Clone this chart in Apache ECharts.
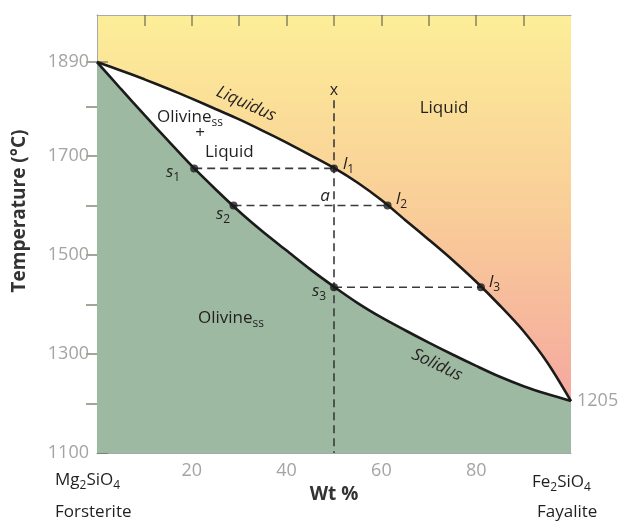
<!DOCTYPE html>
<html>
<head>
<meta charset="utf-8">
<script src="https://cdn.jsdelivr.net/npm/echarts@6/dist/echarts.min.js"></script>
<style>
html,body{margin:0;padding:0;background:#fff;}
#chart{width:618px;height:522px;}
</style>
</head>
<body>
<div id="chart"></div>
<script>
// ---- data ----
const wtPct = [0, 5, 10, 15, 20, 25, 30, 35, 40, 45, 50, 55, 60, 65, 70, 75, 80, 85, 90, 95, 100];
const liquidusT = [1890, 1873, 1855, 1836, 1816, 1795, 1774, 1751, 1727, 1702, 1676, 1646, 1611, 1571, 1531, 1490, 1446, 1398, 1346, 1283, 1205];
const solidusT = [1890, 1836, 1783, 1731, 1680, 1633, 1588, 1547, 1509, 1471, 1436, 1403, 1374, 1348, 1323, 1299, 1276, 1254, 1235, 1219, 1205];
const tieT = [1675, 1600, 1435];
const tieSolidX = [20.5, 28.8, 50];
const tieLiqX = [50, 61.3, 81];
const bulkX = 50;
const bulkT = [1813, 1100];
const xTicks = [10, 20, 30, 40, 50, 60, 70, 80, 90];
const xLabels = [20, 40, 60, 80];
const yTicksLeft = [1100, 1200, 1300, 1400, 1500, 1600, 1700, 1800, 1890];
const yLabelsLeft = [1100, 1300, 1500, 1700, 1890];
const yTicksRight = [1200, 1300, 1400, 1500, 1600, 1700, 1800, 1890];
const yLabelsRight = [1205];

const zip = (xs, ys) => xs.map((x, i) => [x, ys[i]]);
const FONT = '"Open Sans", "Noto Sans", sans-serif';
const tickStyle = { color: 'rgba(95,95,75,0.75)', width: 1.5 };
const frame = { show: true, lineStyle: { color: '#a9a9a9', width: 1 } };
const gray = '#a4a4a4';
const ink = '#231f20';
const plain = v => String(v);
const SMOOTH = 0.3;

const chart = echarts.init(document.getElementById('chart'), null, { renderer: 'canvas' });

const series = [
  { type: 'line', data: zip(wtPct, liquidusT), smooth: SMOOTH, symbol: 'none',
    lineStyle: { width: 0 }, areaStyle: { color: '#ffffff', opacity: 1, origin: 'start' }, z: 2, silent: true },
  { type: 'line', data: zip(wtPct, solidusT), smooth: SMOOTH, symbol: 'none',
    lineStyle: { width: 0 }, areaStyle: { color: '#9db9a1', opacity: 1, origin: 'start' }, z: 3, silent: true }
];
const dash = { color: '#3a3a3a', width: 1.6, type: [8, 5] };
tieT.forEach((t, i) => {
  series.push({ type: 'line', data: [[tieSolidX[i], t], [tieLiqX[i], t]], symbol: 'none', lineStyle: dash, z: 4 });
});
series.push({ type: 'line', data: bulkT.map(t => [bulkX, t]), symbol: 'none', lineStyle: dash, z: 4 });
series.push({ type: 'line', data: zip(wtPct, liquidusT), smooth: SMOOTH, symbol: 'none',
  lineStyle: { color: '#1b1b1b', width: 2.6 }, z: 5 });
series.push({ type: 'line', data: zip(wtPct, solidusT), smooth: SMOOTH, symbol: 'none',
  lineStyle: { color: '#1b1b1b', width: 2.6 }, z: 5 });
series.push({ type: 'scatter', data: zip(tieSolidX, tieT).concat(zip(tieLiqX, tieT)), symbolSize: 8,
  itemStyle: { color: '#1b1b1b' }, z: 6 });

function txt(x, y, text, opt) {
  opt = opt || {};
  return {
    type: 'text', x: x, y: y, rotation: opt.rotation || 0, z: 100,
    style: Object.assign({
      text: text, fill: opt.fill || ink,
      font: (opt.style || 'normal') + ' ' + (opt.weight || 'normal') + ' ' + (opt.size || 17) + 'px ' + FONT,
      textAlign: opt.align || 'left', textVerticalAlign: 'middle'
    }, opt.rich ? { rich: opt.rich } : {})
  };
}
const subRich = (size, italic) => ({
  a: { fontSize: size, fontFamily: FONT, fontStyle: italic ? 'italic' : 'normal', fill: ink, lineHeight: 24, verticalAlign: 'middle' },
  s: { fontSize: Math.round(size * 0.7), fontFamily: FONT, fill: ink, lineHeight: 12, verticalAlign: 'bottom' }
});

const option = {
  backgroundColor: '#ffffff',
  animation: false,
  grid: {
    left: 97, right: 47, top: 15, bottom: 69, show: true, borderWidth: 0,
    containLabel: false, outerBoundsMode: 'none',
    backgroundColor: {
      type: 'linear', x: 0, y: 0, x2: 0, y2: 1,
      colorStops: [
        { offset: 0, color: '#fcee98' },
        { offset: 0.45, color: '#f9cd98' },
        { offset: 0.85, color: '#f5ab9f' },
        { offset: 1, color: '#f3a2a0' }
      ]
    }
  },
  xAxis: [
    { type: 'value', min: 0, max: 100, position: 'bottom', axisLine: frame,
      axisTick: { show: true, inside: true, length: 11, customValues: xTicks, lineStyle: tickStyle },
      axisLabel: { customValues: xLabels, color: gray, fontSize: 18, fontFamily: FONT, margin: 9, formatter: plain },
      splitLine: { show: false },
      name: 'Wt %', nameLocation: 'middle', nameGap: 15,
      nameTextStyle: { fontWeight: 'bold', fontSize: 19, color: '#333', fontFamily: FONT } },
    { type: 'value', min: 0, max: 100, position: 'top', axisLine: frame,
      axisTick: { show: true, inside: true, length: 11, customValues: xTicks, lineStyle: tickStyle },
      axisLabel: { show: false }, splitLine: { show: false } }
  ],
  yAxis: [
    { type: 'value', min: 1100, max: 1985, position: 'left', axisLine: frame,
      axisTick: { show: true, inside: true, length: 11, customValues: yTicksLeft, lineStyle: tickStyle },
      axisLabel: { customValues: yLabelsLeft, color: gray, fontSize: 18, fontFamily: FONT, margin: 8, formatter: plain },
      splitLine: { show: false } },
    { type: 'value', min: 1100, max: 1985, position: 'right', axisLine: frame,
      axisTick: { show: true, inside: true, length: 11, customValues: yTicksRight, lineStyle: tickStyle },
      axisLabel: { customValues: yLabelsRight, color: gray, fontSize: 18, fontFamily: FONT, margin: 6, formatter: plain },
      splitLine: { show: false } }
  ],
  series: series,
  graphic: [
    txt(20, 211, 'Temperature (°C)', { weight: 'bold', size: 19, align: 'center', rotation: Math.PI / 2, fill: '#333' }),
    txt(55, 480, '{a|Mg}{s|2}{a|SiO}{s|4}', { rich: subRich(17) }),
    txt(55, 512, 'Forsterite', { size: 17 }),
    txt(532, 482, '{a|Fe}{s|2}{a|SiO}{s|4}', { rich: subRich(17) }),
    txt(537, 512, 'Fayalite', { size: 17 }),
    txt(246, 104, 'Liquidus', { style: 'italic', align: 'center', rotation: -0.42 }),
    txt(437, 365, 'Solidus', { style: 'italic', align: 'center', rotation: -0.44 }),
    txt(444, 108, 'Liquid', { align: 'center' }),
    txt(157, 117, '{a|Olivine}{s|ss}', { rich: subRich(17) }),
    txt(200, 133, '+', { align: 'center' }),
    txt(205, 152, 'Liquid', {}),
    txt(198, 318, '{a|Olivine}{s|ss}', { rich: subRich(17) }),
    txt(334, 90, 'x', { align: 'center', size: 16 }),
    txt(325, 196, 'a', { align: 'center', style: 'italic' }),
    txt(166, 172, '{a|s}{s|1}', { rich: subRich(17, true) }),
    txt(216, 214, '{a|s}{s|2}', { rich: subRich(17, true) }),
    txt(312, 291, '{a|s}{s|3}', { rich: subRich(17, true) }),
    txt(343, 164, '{a|l}{s|1}', { rich: subRich(17, true) }),
    txt(396, 199, '{a|l}{s|2}', { rich: subRich(17, true) }),
    txt(489, 282, '{a|l}{s|3}', { rich: subRich(17, true) })
  ]
};
chart.setOption(option);
</script>
</body>
</html>
